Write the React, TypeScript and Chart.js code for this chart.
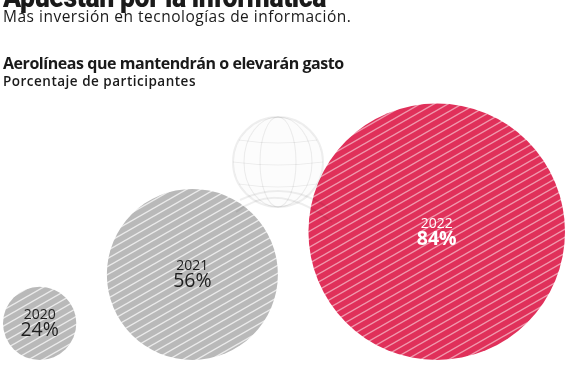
import React, { useEffect, useRef } from "react";
import { Chart, registerables } from "chart.js";

Chart.register(...registerables);

const years = ["2020", "2021", "2022"];
const values = [24, 56, 84];
const labels = ["24%", "56%", "84%"];
const baseColors = ["#b9b9b9", "#b9b9b9", "#e0305a"];
const stripeColors = ["rgba(255,255,255,0.7)", "rgba(255,255,255,0.7)", "rgba(255,255,255,0.5)"];
const textColors = ["#1e1e1e", "#1e1e1e", "#ffffff"];
const boldPct = [false, false, true];

const GAP = 20; // value-units between bubbles

function makePattern(base: string, stripe: string): CanvasPattern | string {
  const W = 14, H = 8;
  const c = document.createElement("canvas");
  c.width = W; c.height = H;
  const g = c.getContext("2d");
  if (!g) return base;
  g.fillStyle = base;
  g.fillRect(0, 0, W, H);
  g.strokeStyle = stripe;
  g.lineWidth = 1.4;
  for (const dy of [-H, 0, H]) {
    g.beginPath();
    g.moveTo(-W, 2 * H + dy);
    g.lineTo(2 * W, -H + dy);
    g.stroke();
  }
  const p = g.createPattern(c, "repeat");
  return p || base;
}

const watermark = {
  id: "watermark",
  afterDatasetsDraw(chart: any) {
    const ctx = chart.ctx;
    ctx.save();
    ctx.strokeStyle = "rgba(0,0,0,0.065)";
    ctx.fillStyle = "rgba(0,0,0,0.012)";
    ctx.lineWidth = 2;
    const cx = 278, cy = 162, r = 45;
    ctx.beginPath();
    ctx.arc(cx, cy, r, 0, Math.PI * 2);
    ctx.fill();
    ctx.stroke();
    ctx.lineWidth = 1.2;
    for (const rx of [18, 34]) {
      ctx.beginPath();
      ctx.ellipse(cx, cy, rx, r, 0, 0, Math.PI * 2);
      ctx.stroke();
    }
    for (const dy of [-22, 0, 22]) {
      const hw = Math.sqrt(r * r - dy * dy);
      ctx.beginPath();
      ctx.moveTo(cx - hw, cy + dy);
      ctx.quadraticCurveTo(cx, cy + dy + 6, cx + hw, cy + dy);
      ctx.stroke();
    }
    ctx.lineWidth = 2;
    ctx.beginPath();
    ctx.moveTo(236, 212);
    ctx.quadraticCurveTo(262, 192, 290, 200);
    ctx.quadraticCurveTo(312, 206, 332, 222);
    ctx.stroke();
    ctx.beginPath();
    ctx.moveTo(240, 200);
    ctx.quadraticCurveTo(270, 186, 300, 194);
    ctx.quadraticCurveTo(318, 200, 328, 208);
    ctx.stroke();
    ctx.restore();
  },
};

const bubbleLabels = {
  id: "bubbleLabels",
  afterDatasetsDraw(chart: any) {
    const ctx = chart.ctx;
    const meta = chart.getDatasetMeta(0);
    ctx.save();
    ctx.textAlign = "center";
    ctx.textBaseline = "alphabetic";
    meta.data.forEach((el: any, i: number) => {
      const { x, y } = el.getProps(["x", "y"], true);
      ctx.fillStyle = textColors[i];
      ctx.font = `400 14px "Open Sans", sans-serif`;
      ctx.fillText(years[i], x, y - 4);
      ctx.font = `${boldPct[i] ? 700 : 400} 19.5px "Open Sans", sans-serif`;
      ctx.fillText(labels[i], x, y + 13);
    });
    ctx.restore();
  },
};

export default function App() {
  const ref = useRef<HTMLCanvasElement>(null);

  useEffect(() => {
    document.body.style.margin = "0";
    if (!ref.current) return;
    const centers: number[] = [];
    let edge = 0;
    values.forEach((v, i) => {
      centers.push(edge + v);
      edge += 2 * v + (i < values.length - 1 ? GAP : 0);
    });
    const xMax = edge;
    const areaW = 567 - 3 - 2;
    const areaH = 375 - 100 - 15;
    const yMax = (areaH * xMax) / areaW;

    const chart = new Chart(ref.current, {
      type: "scatter",
      data: {
        datasets: [
          {
            data: values.map((v, i) => ({ x: centers[i], y: v })),
            pointBackgroundColor: values.map((_, i) => makePattern(baseColors[i], stripeColors[i])) as any,
            pointBorderWidth: 0,
            pointHoverBorderWidth: 0,
            pointStyle: "circle",
            showLine: false,
            clip: false as any,
            pointRadius: (c: any) => {
              const s = c.chart.scales.x;
              const v = values[c.dataIndex] ?? 0;
              const r = s.getPixelForValue(v) - s.getPixelForValue(0);
              return isFinite(r) ? r : 0;
            },
          } as any,
        ],
      },
      options: {
        animation: false,
        responsive: false,
        maintainAspectRatio: false,
        layout: { padding: { left: 3, right: 2, top: 100, bottom: 15 } },
        scales: {
          x: { type: "linear", min: 0, max: xMax, display: false },
          y: { type: "linear", min: 0, max: yMax, display: false },
        },
        plugins: { legend: { display: false }, tooltip: { enabled: false } },
        events: [],
      },
      plugins: [watermark, bubbleLabels],
    });
    return () => chart.destroy();
  }, []);

  const base: React.CSSProperties = {
    position: "absolute",
    left: 3,
    margin: 0,
    whiteSpace: "nowrap",
    color: "#1a1a1a",
    fontFamily: '"Open Sans", sans-serif',
  };

  return (
    <div style={{ position: "relative", width: 567, height: 375, overflow: "hidden", background: "#fff" }}>
      <canvas ref={ref} width={567} height={375} style={{ position: "absolute", left: 0, top: 0 }} />
      <div
        style={{
          ...base,
          top: -18,
          fontFamily: "Roboto, sans-serif",
          fontWeight: 900,
          fontSize: 30,
          lineHeight: "30px",
          letterSpacing: -0.5,
          transform: "scaleX(0.89)",
          transformOrigin: "0 0",
        }}
      >
        Apuestan por la informática
      </div>
      <div style={{ ...base, top: 9, fontSize: 15.5, lineHeight: "15.5px", letterSpacing: 0.5 }}>
        Más inversión en tecnologías de información.
      </div>
      <div style={{ ...base, top: 55, fontSize: 16, lineHeight: "16px", fontWeight: 700, letterSpacing: -0.45 }}>
        Aerolíneas que mantendrán o elevarán gasto
      </div>
      <div style={{ ...base, top: 75, fontSize: 13.5, lineHeight: "13.5px", fontWeight: 600, letterSpacing: 0.5 }}>
        Porcentaje de participantes
      </div>
    </div>
  );
}
